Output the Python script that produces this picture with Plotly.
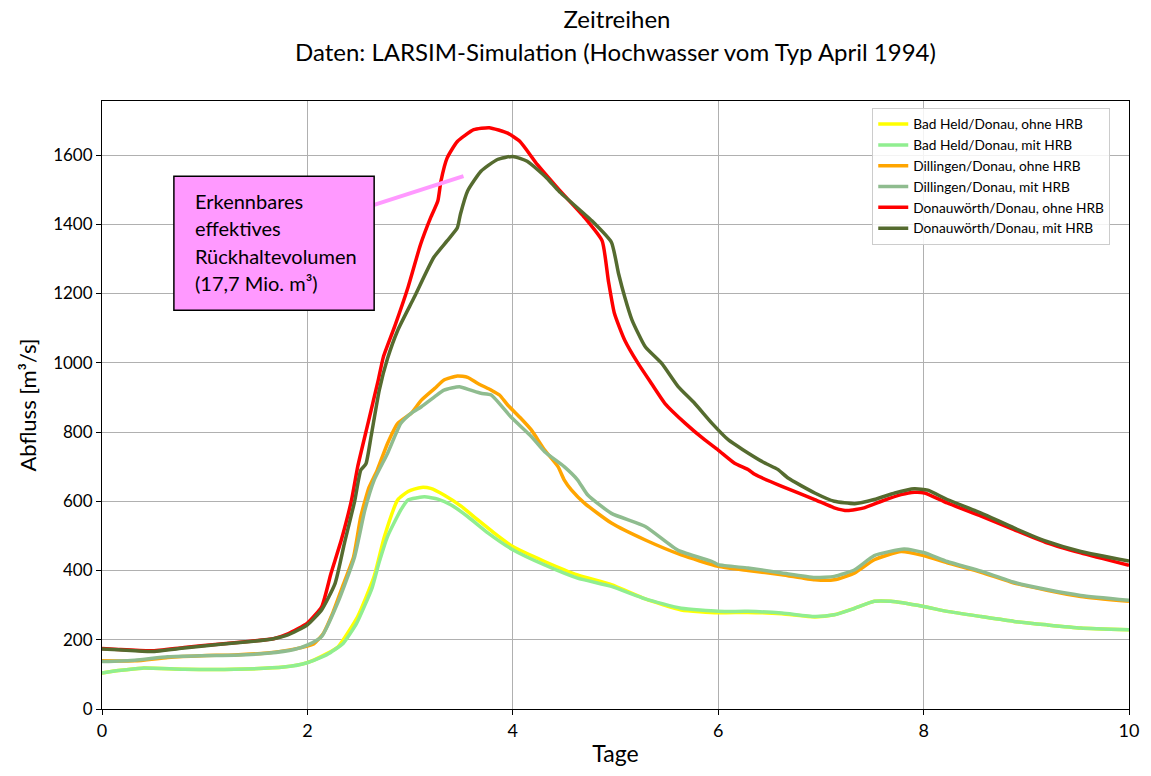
import plotly.graph_objects as go

# ---------------- data ----------------
t_bh_ohne = [0, 0.16, 0.39, 0.8, 1.29, 1.77, 1.99, 2.19, 2.3, 2.49, 2.65, 2.75, 2.88, 2.98, 3.04,
             3.11, 3.2, 3.33, 3.5, 3.66, 3.82, 4.0, 4.31, 4.63, 4.96, 5.29, 5.64, 6.0, 6.29, 6.62,
             6.94, 7.13, 7.33, 7.52, 7.68, 8.0, 8.23, 8.56, 8.88, 9.2, 9.53, 10.0]
q_bh_ohne = [104, 111, 118, 115, 115, 121, 133, 160, 180, 267, 383, 498, 604, 628, 635,
             640, 637, 618, 585, 546, 508, 469, 426, 387, 359, 318, 286, 278, 279, 275,
             266, 272, 291, 311, 311, 296, 282, 267, 253, 243, 234, 229]

t_bh_mit = [0, 0.16, 0.39, 0.8, 1.29, 1.77, 1.99, 2.19, 2.35, 2.48, 2.56, 2.63, 2.7, 2.78, 2.91,
            2.98, 3.07, 3.14, 3.27, 3.4, 3.56, 3.76, 4.0, 4.31, 4.63, 4.96, 5.29, 5.64, 6.0, 6.29,
            6.62, 6.94, 7.13, 7.33, 7.52, 7.68, 8.0, 8.23, 8.56, 8.88, 9.2, 9.53, 10.0]
q_bh_mit = [104, 111, 118, 115, 115, 121, 133, 157, 190, 248, 300, 350, 425, 498, 575,
            604, 610, 613, 606, 589, 556, 508, 460, 416, 378, 354, 318, 291, 282, 282,
            277, 267, 272, 291, 311, 311, 296, 282, 267, 253, 243, 234, 229]

t_dl_ohne = [0, 0.32, 0.64, 0.97, 1.29, 1.61, 1.87, 2.06, 2.15, 2.25, 2.35, 2.45, 2.52, 2.6, 2.68,
             2.78, 2.88, 3.01, 3.11, 3.24, 3.33, 3.46, 3.56, 3.66, 3.79, 3.87, 3.95, 4.08, 4.18, 4.31,
             4.44, 4.5, 4.57, 4.7, 4.96, 5.29, 5.64, 6.0, 6.29, 6.62, 6.94, 7.13, 7.33, 7.52, 7.78,
             8.0, 8.23, 8.56, 8.88, 9.2, 9.53, 10.0]
q_dl_ohne = [139, 139, 149, 154, 156, 162, 173, 188, 216, 280, 360, 440, 556, 640, 690,
             767, 825, 854, 892, 926, 950, 962, 958, 940, 921, 907, 878, 839, 806, 748,
             700, 662, 633, 594, 537, 488, 445, 412, 400, 388, 373, 373, 393, 431, 455,
             443, 422, 395, 364, 343, 325, 311]

t_dl_mit = [0, 0.32, 0.64, 0.97, 1.29, 1.61, 1.87, 2.01, 2.14, 2.3, 2.46, 2.56, 2.65, 2.78, 2.91,
            3.01, 3.11, 3.24, 3.33, 3.48, 3.59, 3.69, 3.79, 3.98, 4.18, 4.31, 4.5, 4.63, 4.73, 4.96,
            5.29, 5.61, 5.94, 6.0, 6.29, 6.62, 6.94, 7.13, 7.33, 7.52, 7.81, 8.0, 8.23, 8.56, 8.88,
            9.2, 9.53, 10.0]
q_dl_mit = [137, 141, 151, 154, 155, 161, 172, 186, 210, 310, 440, 575, 661, 738, 825,
            854, 873, 902, 921, 931, 921, 912, 907, 844, 787, 743, 700, 662, 618, 565,
            527, 458, 426, 417, 407, 393, 380, 383, 402, 443, 462, 452, 426, 398, 366,
            345, 328, 314]

t_dw_ohne = [0, 0.16, 0.48, 0.8, 1.13, 1.45, 1.67, 1.81, 2.0, 2.14, 2.23, 2.33, 2.43, 2.49, 2.59,
             2.69, 2.74, 2.85, 2.98, 3.1, 3.2, 3.27, 3.3, 3.36, 3.46, 3.62, 3.77, 3.95, 4.07, 4.24,
             4.45, 4.7, 4.87, 4.93, 4.99, 5.09, 5.22, 5.35, 5.48, 5.68, 5.87, 6.0, 6.16, 6.29, 6.36,
             6.62, 6.94, 7.13, 7.26, 7.42, 7.59, 7.78, 7.91, 8.01, 8.23, 8.56, 8.88, 9.2, 9.53, 10.0]
q_dw_ohne = [175, 172, 168, 178, 187, 196, 203, 217, 248, 296, 392, 488, 604, 700, 825,
             950, 1017, 1105, 1218, 1340, 1419, 1467, 1524, 1591, 1639, 1673, 1679, 1663, 1639, 1572,
             1500, 1419, 1352, 1238, 1142, 1065, 998, 940, 883, 825, 777, 748, 710, 692, 677,
             643, 605, 581, 573, 581, 600, 619, 626, 624, 595, 557, 518, 480, 451, 415]

t_dw_mit = [0, 0.16, 0.48, 0.8, 1.13, 1.45, 1.67, 1.81, 2.0, 2.14, 2.27, 2.36, 2.46, 2.52, 2.57,
            2.62, 2.7, 2.78, 2.88, 3.04, 3.23, 3.36, 3.46, 3.49, 3.56, 3.69, 3.85, 4.0, 4.14, 4.33,
            4.45, 4.77, 4.96, 5.03, 5.09, 5.16, 5.29, 5.45, 5.61, 5.77, 5.94, 6.1, 6.24, 6.45, 6.58,
            6.68, 6.94, 7.13, 7.33, 7.52, 7.72, 7.91, 8.04, 8.23, 8.56, 8.88, 9.2, 9.53, 10.0]
q_dw_mit = [173, 171, 166, 176, 186, 195, 203, 214, 243, 287, 363, 478, 600, 690, 708,
            787, 921, 1012, 1094, 1189, 1304, 1352, 1390, 1429, 1496, 1553, 1587, 1596, 1582, 1534,
            1495, 1410, 1348, 1257, 1190, 1124, 1046, 998, 931, 883, 825, 777, 749, 711, 692,
            667, 624, 600, 593, 605, 624, 636, 632, 605, 566, 523, 484, 455, 427]

series_names = ["Bad Held/Donau, ohne HRB", "Bad Held/Donau, mit HRB",
                "Dillingen/Donau, ohne HRB", "Dillingen/Donau, mit HRB",
                "Donauwörth/Donau, ohne HRB", "Donauwörth/Donau, mit HRB"]
series_t = [t_bh_ohne, t_bh_mit, t_dl_ohne, t_dl_mit, t_dw_ohne, t_dw_mit]
series_q = [q_bh_ohne, q_bh_mit, q_dl_ohne, q_dl_mit, q_dw_ohne, q_dw_mit]
series_colors = ["#ffff00", "#90ee90", "#ffa500", "#8fbc8f", "#ff0000", "#556b2f"]

title_line1 = "Zeitreihen"
title_line2 = "Daten: LARSIM-Simulation (Hochwasser vom Typ April 1994)"
x_label = "Tage"
y_label = "Abfluss [m³/s]"
note_lines = ["Erkennbares", "effektives", "Rückhaltevolumen", "(17,7 Mio. m³)"]
note_line_q = [1467, 1389, 1308, 1230]
note_box = dict(x0=0.70, x1=2.65, y0=1152, y1=1539)
note_pointer = dict(x0=2.65, y0=1456, x1=3.52, y1=1539)

FONT = "Lato, 'Open Sans', sans-serif"

fig = go.Figure()
for name, tt, qq, col in zip(series_names, series_t, series_q, series_colors):
    fig.add_trace(go.Scatter(x=tt, y=qq, mode="lines", name=name,
                             line=dict(color=col, width=3.5, shape="spline", smoothing=0.5)))

# annotation box + pointer
fig.add_shape(type="line", xref="x", yref="y", **note_pointer,
              line=dict(color="#ff99ff", width=4))
fig.add_shape(type="rect", xref="x", yref="y", **note_box,
              fillcolor="#ff99ff", line=dict(color="black", width=1.5))
for txt, qv in zip(note_lines, note_line_q):
    fig.add_annotation(x=0.89, y=qv, xref="x", yref="y", text=txt, showarrow=False,
                       xanchor="left", yanchor="middle",
                       font=dict(family=FONT, size=20, color="black"))

fig.add_annotation(x=0.5, y=1 + (101 - 52) / 608, xref="paper", yref="paper",
                   text=title_line2, showarrow=False, xanchor="center", yanchor="middle",
                   font=dict(family=FONT, size=24, color="black"))

fig.update_layout(
    width=1151, height=776,
    margin=dict(l=102, r=19, t=101, b=67),
    paper_bgcolor="white", plot_bgcolor="white",
    font=dict(family=FONT, color="black"),
    title=dict(text=title_line1, x=0.5 * (102 + 1132) / 1151, xanchor="center",
               y=1 - 20 / 776, yanchor="middle", yref="container",
               font=dict(family=FONT, size=24, color="black")),
    legend=dict(x=0.75, y=0.989, xanchor="left", yanchor="top",
                bgcolor="rgba(255,255,255,0.85)", bordercolor="#cccccc", borderwidth=1,
                font=dict(family=FONT, size=13.7, color="black")),
    showlegend=True,
)
fig.update_xaxes(range=[0, 10], tick0=0, dtick=2, showline=True, mirror=True,
                 linecolor="black", linewidth=1, ticks="outside", ticklen=5,
                 tickcolor="black", showgrid=True, gridcolor="#b0b0b0", gridwidth=1,
                 zeroline=False, tickfont=dict(family=FONT, size=18),
                 title=dict(text=x_label, font=dict(family=FONT, size=23), standoff=6))
fig.update_yaxes(range=[0, 1756], tick0=0, dtick=200, showline=True, mirror=True,
                 linecolor="black", linewidth=1, ticks="outside", ticklen=5,
                 tickcolor="black", showgrid=True, gridcolor="#b0b0b0", gridwidth=1,
                 zeroline=False, tickfont=dict(family=FONT, size=17),
                 title=dict(text=y_label, font=dict(family=FONT, size=22), standoff=10))

fig.write_html("out.html")
